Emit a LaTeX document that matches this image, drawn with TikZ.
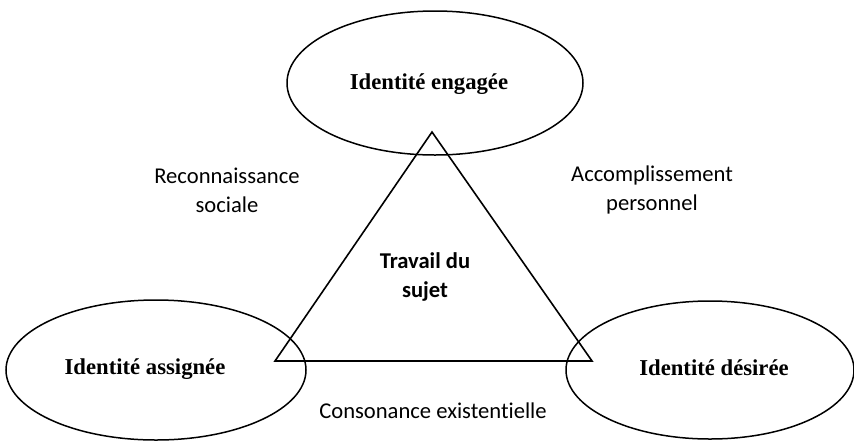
\documentclass[tikz,border=0pt]{standalone}
\usepackage{fontspec}
\setmainfont{Liberation Serif}
\newfontfamily\carlitofont[Ligatures={NoCommon}]{Carlito}
\usetikzlibrary{shapes.geometric}
\tikzset{
  ell/.style={draw=black, line width=1.5pt, ellipse, inner sep=0pt},
  idtext/.style={font=\fontsize{22.7}{26}\selectfont\bfseries},
  lbl/.style={font=\carlitofont\fontsize{22.6}{29}\selectfont, align=center},
  tri/.style={draw=black, line width=1.6pt, line join=miter},
}
\begin{document}
\begin{tikzpicture}[x=1pt,y=-1pt]
\useasboundingbox (0,0) rectangle (854,440);
\node[ell, minimum width=296pt, minimum height=144pt] (eng) at (435,83) {};
\node[ell, minimum width=300pt, minimum height=140pt] (ass) at (156,370) {};
\node[ell, minimum width=288pt, minimum height=138pt] (des) at (710,370) {};
\coordinate (apex) at (432,132);
\coordinate (bl) at (275,361);
\coordinate (br) at (592,361);
\draw[tri] (apex) -- (bl) -- (br) -- cycle;
\node[idtext] (t1) at (429,84) {Identité engagée};
\node[idtext] (t2) at (145,369) {Identité assignée};
\node[idtext] (t3) at (714,368) {Identité désirée};
\node[lbl] (l1) at (227,190) {Reconnaissance\\sociale};
\node[lbl] (l2) at (652,190) {Accomplissement\\personnel};
\node[lbl, font=\carlitofont\fontsize{22.6}{29}\selectfont\bfseries] (l3) at (425,277) {Travail du\\sujet};
\node[lbl] (l4) at (433,411) {Consonance existentielle};
\end{tikzpicture}
\end{document}
